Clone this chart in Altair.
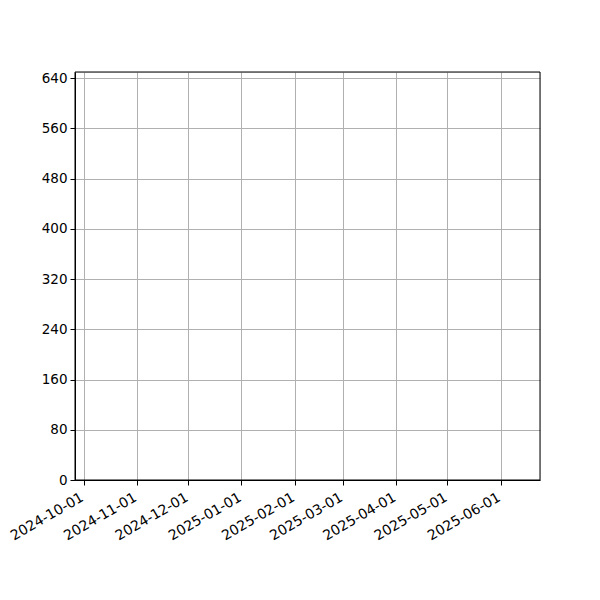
import altair as alt

# Data (the reference chart shows no plotted values)
dates = []
values = []

y_ticks = [0, 80, 160, 240, 320, 400, 480, 560, 640]
x_tick_dates = [
    (2024, 10), (2024, 11), (2024, 12), (2025, 1), (2025, 2),
    (2025, 3), (2025, 4), (2025, 5), (2025, 6),
]
x_domain = [(2024, 9, 26), (2025, 6, 24)]
y_domain = [0, 650]

x_vals = [alt.DateTime(year=y, month=m, date=1, utc=True) for y, m in x_tick_dates]
x_dom = [alt.DateTime(year=y, month=m, date=d, utc=True) for y, m, d in x_domain]

font = "DejaVu Sans"
W, H = 465, 408

points = alt.Chart(alt.Data(values=[{"date": d, "value": v} for d, v in zip(dates, values)])).mark_point().encode(
    x=alt.X("date:T",
            scale=alt.Scale(type="utc", domain=x_dom, nice=False),
            axis=alt.Axis(values=x_vals, labelExpr="utcFormat(datum.value, '%Y-%m-%d')",
                          title=None, labelAngle=-30, labelAlign="right", labelBaseline="top",
                          grid=True, gridColor="#b0b0b0", gridWidth=1,
                          domainColor="black", tickColor="black", tickSize=5,
                          labelFont=font, labelFontSize=14, labelColor="black",
                          labelPadding=5, labelOffset=-5,
                          labelOverlap=False, labelFlush=False)),
    y=alt.Y("value:Q",
            scale=alt.Scale(domain=y_domain, nice=False, zero=False),
            axis=alt.Axis(values=y_ticks, title=None,
                          grid=True, gridColor="#b0b0b0", gridWidth=1,
                          domainColor="black", tickColor="black", tickSize=5,
                          labelFont=font, labelFontSize=13.5, labelColor="black", labelPadding=3,
                          labelOverlap=False, labelFlush=False)),
)

frame = alt.Chart(alt.Data(values=[{"frame": 1}])).mark_rect(
    fill=None, stroke="black", strokeWidth=1
).encode(x=alt.value(0), x2=alt.value(W), y=alt.value(0), y2=alt.value(H))

chart = alt.layer(points, frame).properties(
    width=W, height=H,
    autosize=alt.AutoSizeParams(type="none"),
    padding={"left": 67, "top": 64, "right": 52, "bottom": 112},
).configure_view(stroke=None).configure(background="white")

chart.save("out.html", embed_options={"renderer": "svg", "actions": False})
